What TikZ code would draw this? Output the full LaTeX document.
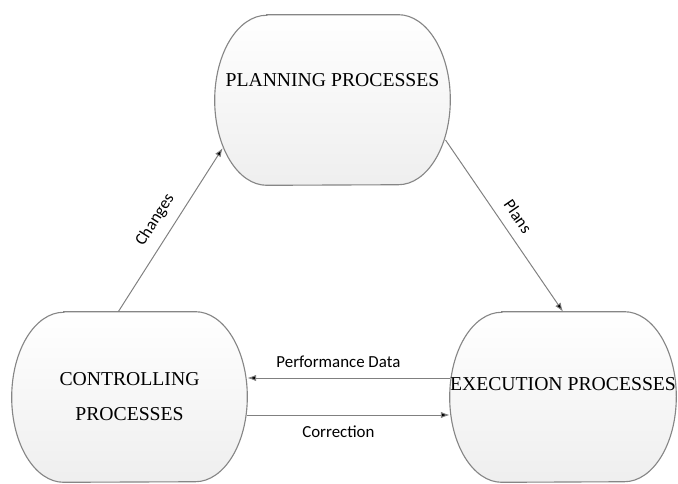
\documentclass[tikz,border=0pt]{standalone}
\usepackage{fontspec}
\setmainfont{Liberation Serif}
\newfontfamily\lblfont{Carlito}
\usetikzlibrary{arrows.meta,backgrounds}
\tikzset{
    proc/.style={minimum width=#1,minimum height=4.25cm,inner sep=0pt,align=center,
        font=\fontsize{14}{25}\selectfont},
    procline/.style={draw=gray!95,line width=0.8pt,top color=white,bottom color=gray!13},
    flow/.style={draw=gray,line width=0.7pt,-{Latex[length=2.2mm,width=1.6mm,fill=black]}},
    lbl/.style={font=\lblfont\fontsize{12}{14}\selectfont,text=black}
}
\begin{document}
\begin{tikzpicture}[x=0.025cm,y=-0.025cm]
            \useasboundingbox (0,0) rectangle (678,484);
            \node[proc=5.875cm,text depth=1cm] (plan) at (332.5,100) {PLANNING PROCESSES};
            \node[proc=5.875cm] (ctrl) at (129.5,397) {CONTROLLING\\PROCESSES};
            \node[proc=5.65cm,text depth=0.65cm] (exec) at (563,397) {EXECUTION PROCESSES};

            %the outlines, behind the text
            \begin{scope}[on background layer]
                \foreach \n in {plan,ctrl,exec}
                    \path[procline] ([xshift=1.3cm]\n.north west) -- ([xshift=-1.3cm]\n.north east)
                        arc[start angle=90,end angle=-90,x radius=1.3cm,y radius=2.125cm]
                        -- ([xshift=1.3cm]\n.south west)
                        arc[start angle=270,end angle=90,x radius=1.3cm,y radius=2.125cm] -- cycle;
            \end{scope}

            %now the arrows
            \draw[flow] ([xshift=-0.28cm]ctrl.north) -- node[lbl,sloped,above=4pt] {Changes} ([xshift=0.2cm,yshift=-1.2cm]plan.west);
            \draw[flow] ([xshift=-0.12cm,yshift=-1cm]plan.east) -- node[lbl,sloped,above=4pt] {Plans} (exec.north);

            \draw[flow] ([yshift=0.475cm]exec.west) -- node[lbl,above=4pt,pos=0.55] {Performance Data} ([yshift=0.475cm]ctrl.east);
            \draw[flow] ([yshift=-0.45cm]ctrl.east) -- node[lbl,below=4pt,pos=0.45] {Correction} ([yshift=-0.45cm]exec.west);

        \end{tikzpicture}
\end{document}
